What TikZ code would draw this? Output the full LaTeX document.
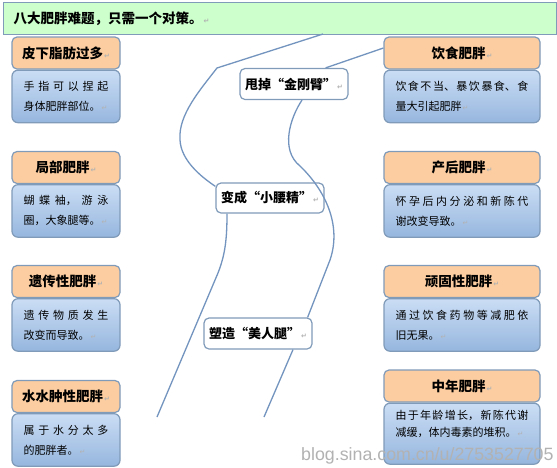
\documentclass[tikz,border=0pt]{standalone}
\usepackage{fontspec}
\setmainfont{Noto Sans CJK SC}
\newfontfamily\symfont{DejaVu Sans}
\newfontfamily\webfont{Liberation Sans}
\usepackage{xcolor}
\usetikzlibrary{positioning}
\XeTeXlinebreaklocale "zh"
\XeTeXlinebreakskip=0pt plus 4pt
\definecolor{barfill}{RGB}{204,255,204}
\definecolor{edge}{RGB}{128,155,185}
\definecolor{headfill}{RGB}{252,205,160}
\definecolor{bodytop}{RGB}{202,221,244}
\definecolor{bodybot}{RGB}{150,182,222}
\definecolor{figcol}{RGB}{115,148,190}
\tikzset{
    titlebox/.style={
        draw=edge,
        line width=1.2pt,
        fill=barfill,
        anchor=north west,
        minimum width=553pt,
        minimum height=32pt,
        text width=533pt,
        inner xsep=10pt,
        align=left,
        font=\fontsize{13.5}{16}\selectfont\bfseries
    },
    headbox/.style={
        draw=edge,
        line width=1.2pt,
        rounded corners=5pt,
        fill=headfill,
        minimum width=#1,
        minimum height=32pt,
        align=center,
        font=\fontsize{13.5}{16}\selectfont\bfseries
    },
    bodybox/.style={
        draw=edge,
        line width=1.2pt,
        rounded corners=6pt,
        top color=bodytop,
        bottom color=bodybot,
        text width=#1,
        inner xsep=11.5pt,
        minimum height=52.5pt,
        align=justify,
        font=\fontsize{11}{20}\selectfont
    },
    goalbox/.style={
        draw=edge,
        line width=1.2pt,
        rounded corners=5pt,
        fill=white,
        minimum width=108pt,
        minimum height=31pt,
        inner xsep=2pt,
        align=center,
        font=\fontsize{13}{16}\selectfont\bfseries
    },
    figline/.style={draw=figcol, line width=1.3pt},
    webmark/.style={text=gray!60, inner sep=0pt, font=\webfont\fontsize{17.8}{20}\selectfont}
}
\newcommand{\retmark}{{\symfont\fontsize{7}{7}\selectfont\color{gray!60}\kern1pt↵}}

\begin{document}
\begin{tikzpicture}[x=1pt, y=-1pt, node distance=0pt]
        \useasboundingbox[fill=white] (0,0) rectangle (557,467);
        \node[titlebox] (title) at (3,2) {八大肥胖难题，只需一个对策。\retmark};

        \node[headbox=108pt] (pixia) at (66,53) {皮下脂肪过多\retmark};
        \node[bodybox=85pt, below=of pixia] (pixiat) {手指可以捏起\linebreak 身体肥胖部位。\retmark};
        \node[headbox=108pt] (jubu) at (66,167.5) {局部肥胖\retmark};
        \node[bodybox=85pt, below=of jubu] (jubut) {蝴蝶袖，游泳\linebreak 圈，大象腿等。\retmark};
        \node[headbox=108pt] (yichuan) at (66,281.5) {遗传性肥胖\retmark};
        \node[bodybox=85pt, below=of yichuan] (yichuant) {遗传物质发生\linebreak 改变而导致。\retmark};
        \node[headbox=108pt] (shuizhong) at (66,396.5) {水水肿性肥胖\retmark};
        \node[bodybox=85pt, below=of shuizhong] (shuizhongt) {属于水分太多\linebreak 的肥胖者。\retmark};

        \node[headbox=156pt] (yinshi) at (462,53) {饮食肥胖\retmark};
        \node[bodybox=133pt, below=of yinshi] (yinshit) {饮食不当、暴饮暴食、食\linebreak 量大引起肥胖\retmark};
        \node[headbox=156pt] (chanhou) at (462,167.5) {产后肥胖\retmark};
        \node[bodybox=133pt, below=of chanhou] (chanhout) {怀孕后内分泌和新陈代\linebreak 谢改变导致。\retmark};
        \node[headbox=156pt] (wangu) at (462,281.5) {顽固性肥胖\retmark};
        \node[bodybox=133pt, below=of wangu] (wangut) {通过饮食药物等减肥依\linebreak 旧无果。\retmark};
        \node[headbox=156pt] (zhongnian) at (462,386) {中年肥胖\retmark};
        \node[bodybox=133pt, below=of zhongnian, minimum height=61pt, font=\fontsize{11}{17}\selectfont] (zhongniant) {由于年龄增长，新陈代谢\linebreak 减缓，体内毒素的堆积。\retmark\\[4pt]};

        \node[goalbox] (shuai) at (294,84) {甩掉“金刚臂”\retmark};
        \node[goalbox, minimum height=30pt] (bianc) at (270,198) {变成“小腰精”\retmark};
        \node[goalbox] (suzao) at (258,333.5) {塑造“美人腿”\retmark};

        \coordinate (lneck) at (323,34);
        \coordinate (lsh) at (217,68);
        \coordinate (lwaist) at (180,140);
        \coordinate (lknee) at (218,273);
        \coordinate (lfoot) at (157,417);
        \coordinate (rwaist) at (300,166);
        \coordinate (rhip) at (330,260);
        \coordinate (rfoot) at (264,417);

        \draw[figline] (lneck) -- (lsh) .. controls (200,90) and (178,115) .. (lwaist) .. controls (181,160) and (200,176) .. ([yshift=-4pt]bianc.north west);
        \draw[figline] ([xshift=-43pt]bianc.south) .. controls (227,240) and (225,255) .. (lknee) -- (lfoot);
        \draw[figline] ([yshift=5pt]yinshi.west) -- ([xshift=-23pt]shuai.north east);
        \draw[figline] ([xshift=8pt]shuai.south) .. controls (290,118) and (280,150) .. (rwaist) .. controls (325,190) and (342,225) .. (rhip) -- ([xshift=-5pt]suzao.north east);
        \draw[figline] ([xshift=35pt]suzao.south) -- (rfoot);

        \node[webmark, anchor=base west] (mark) at (301,460) {blog.sina.com.cn/u/2753527705};
    \end{tikzpicture}
\end{document}
